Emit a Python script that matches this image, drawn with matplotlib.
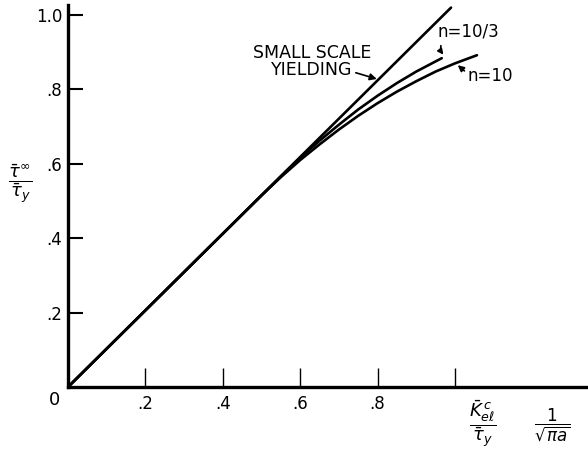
import matplotlib
matplotlib.use("Agg")
import matplotlib.pyplot as plt

# ----------------------------------------------------------
# Curve data (normalised stress vs. normalised toughness)
# ----------------------------------------------------------
ssy_x = [0.0, 0.99]
ssy_y = [0.0, 1.02]

n103_x = [0.0, 0.5, 0.55, 0.6, 0.65, 0.7, 0.75, 0.8, 0.85, 0.9, 0.966]
n103_y = [0.0, 0.515, 0.566, 0.616, 0.662, 0.705, 0.746, 0.783, 0.817, 0.848, 0.884]

n10_x = [0.0, 0.5, 0.55, 0.6, 0.65, 0.7, 0.75, 0.8, 0.85, 0.9, 0.95, 1.0, 1.057]
n10_y = [0.0, 0.515, 0.564, 0.610, 0.652, 0.692, 0.729, 0.763, 0.794, 0.822, 0.848, 0.870, 0.892]

xticks = [0.2, 0.4, 0.6, 0.8, 1.0]
xtick_labels = [".2", ".4", ".6", ".8", ""]
yticks = [0.2, 0.4, 0.6, 0.8, 1.0]
ytick_labels = [".2", ".4", ".6", ".8", "1.0"]

plt.rcParams["font.family"] = ["DejaVu Sans"]
plt.rcParams["mathtext.fontset"] = "dejavusans"

fig = plt.figure(figsize=(5.88, 4.51), dpi=100)
ax = fig.add_axes([68 / 588, 64 / 451, 520 / 588, 382 / 451])

line_kw = dict(color="black", lw=1.9, solid_capstyle="round", solid_joinstyle="round")
ax.plot(ssy_x, ssy_y, **line_kw)
ax.plot(n103_x, n103_y, **line_kw)
ax.plot(n10_x, n10_y, **line_kw)

ax.set_xlim(0, 1.344)
ax.set_ylim(0, 1.027)

for side in ["top", "right"]:
    ax.spines[side].set_visible(False)
for side in ["left", "bottom"]:
    ax.spines[side].set_linewidth(2.4)

ax.set_xticks(xticks)
ax.set_xticklabels(xtick_labels)
ax.set_yticks(yticks)
ax.set_yticklabels(ytick_labels)
ax.tick_params(axis="x", direction="in", length=14, width=1.0, pad=6, labelsize=12)
ax.tick_params(axis="y", direction="in", length=11, width=1.5, pad=4, labelsize=12)

# origin label
ax.text(-0.02, -0.012, "0", ha="right", va="top", fontsize=13)

# axis labels as stacked fractions
ax.text(-0.125, 0.545, r"$\dfrac{\bar{\tau}^{\infty}}{\bar{\tau}_y}$", fontsize=13,
        ha="center", va="center")
ax.text(1.072, -0.102, r"$\dfrac{\bar{K}_{e\ell}^{\,c}}{\bar{\tau}_y}$", fontsize=13,
        ha="center", va="center", clip_on=False)
ax.text(1.253, -0.102, r"$\dfrac{1}{\sqrt{\pi a}}$", fontsize=12,
        ha="center", va="center", clip_on=False)

# curve labels
ax.text(0.63, 0.876, "SMALL SCALE\nYIELDING", fontsize=12.5, ha="center", va="center",
        linespacing=0.95)
ax.annotate("", xy=(0.805, 0.826), xytext=(0.737, 0.847),
            arrowprops=dict(arrowstyle="-|>", color="black", lw=1.2, mutation_scale=10))
ax.text(0.955, 0.955, "n=10/3", fontsize=12, ha="left", va="center")
ax.annotate("", xy=(0.975, 0.888), xytext=(0.965, 0.925),
            arrowprops=dict(arrowstyle="-|>", color="black", lw=1.2, mutation_scale=8,
                            connectionstyle="arc3,rad=0.3"))
ax.text(1.032, 0.835, "n=10", fontsize=12, ha="left", va="center")
ax.annotate("", xy=(1.002, 0.87), xytext=(1.03, 0.845),
            arrowprops=dict(arrowstyle="-|>", color="black", lw=1.2, mutation_scale=9))

fig.savefig("out.png", dpi=100)
plt.close(fig)
